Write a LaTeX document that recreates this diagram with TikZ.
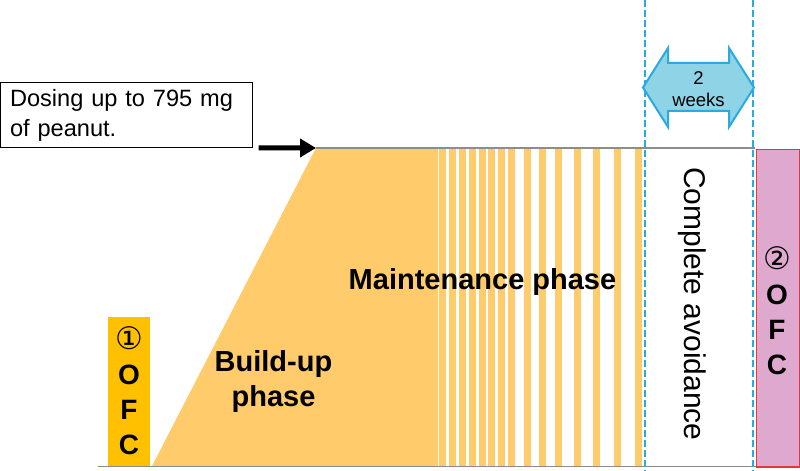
\documentclass[tikz,border=0pt]{standalone}
\usepackage{fontspec}
\setmainfont{Liberation Sans}
\newfontfamily\circfont{DejaVu Sans}
\usetikzlibrary{positioning, arrows.meta}
\definecolor{buildorange}{RGB}{255,203,107}
\definecolor{ofcgold}{RGB}{255,192,0}
\definecolor{ofcpink}{RGB}{223,169,207}
\definecolor{ofcred}{RGB}{232,52,64}
\definecolor{guideblue}{RGB}{41,171,226}
\definecolor{weekcyan}{RGB}{142,212,230}
\definecolor{axisgray}{RGB}{140,140,140}
\newcommand{\circnum}[1]{{\circfont\mdseries\fontsize{31bp}{35bp}\selectfont #1}}

\begin{document}
\begin{tikzpicture}[x=1bp, y=-1bp,
    phase/.style={font=\bfseries\fontsize{29bp}{35bp}\selectfont, align=center, inner sep=0pt},
    ofcbox/.style={minimum width=42bp, inner sep=0pt, anchor=north west},
    guide/.style={guideblue, line width=1.5bp, dash pattern=on 7bp off 3bp},
    axis/.style={axisgray, line width=1.5bp},
    arrow/.style={-{Triangle[length=16bp, width=18bp]}, line width=5bp},
]
    \useasboundingbox (0,0) rectangle (800,471);

    % Build-up ramp
    \coordinate (peak) at (316,148);
    \fill[buildorange] (152,466) -- (peak) -- (438,148) -- (438,466) -- cycle;

    % Maintenance stripes
    \foreach \sx in {439,449,459,469,479,488,498,508,524,539,555,574,593,614,635}
        \fill[buildorange] (\sx,148) rectangle ++(7,318);

    % Baseline and top level
    \draw[axis] (98,466.5) -- (800,466.5);
    \draw[axis] (peak) -- (755,148);

    % OFC boxes
    \node[ofcbox, fill=ofcgold, minimum height=149bp] (ofcA) at (108,317) {};
    \node[ofcbox, fill=ofcpink, draw=ofcred, line width=1.5bp, minimum width=43bp,
          minimum height=317bp] (ofcB) at (755.5,149) {};
    \node[phase, font=\bfseries\fontsize{28bp}{35bp}\selectfont] (ofcAlabel) at (129,391) {\circnum{①}\\O\\F\\C};
    \node[phase, font=\bfseries\fontsize{28bp}{35bp}\selectfont] (ofcBlabel) at (777,311) {\circnum{②}\\O\\F\\C};

    % Two-week window
    \draw[guide] (645,0) -- (645,471);
    \draw[guide] (753,0) -- (753,471);
    \filldraw[fill=weekcyan, draw=guideblue, line width=2bp]
        (643,87.5) -- (668,48) -- (668,63) -- (729,63) -- (729,48) -- (754,87.5)
        -- (729,127) -- (729,111) -- (668,111) -- (668,127) -- cycle;
    \node[font=\fontsize{18.5bp}{22bp}\selectfont, align=center, inner sep=0pt] (weeks) at (698.5,89) {2\\weeks};

    % Phase labels
    \node[phase] (build) at (273.5,382) {Build-up\\phase};
    \node[phase, anchor=base] (maint) at (482.5,290) {Maintenance phase};
    \node[rotate=-90, font=\fontsize{30bp}{35bp}\selectfont, inner sep=0pt] (avoid) at (692,304) {Complete avoidance};

    % Dose note
    \node[draw, line width=1bp, anchor=north west, minimum width=251bp, minimum height=65bp,
          text width=233bp, inner xsep=9bp, align=left,
          font=\fontsize{23.6bp}{30bp}\selectfont] (dose) at (0.5,82) {Dosing up to 795 mg\\of peanut.};
    \draw[arrow] ([xshift=6bp]dose.south east) -- (peak);
\end{tikzpicture}
\end{document}
